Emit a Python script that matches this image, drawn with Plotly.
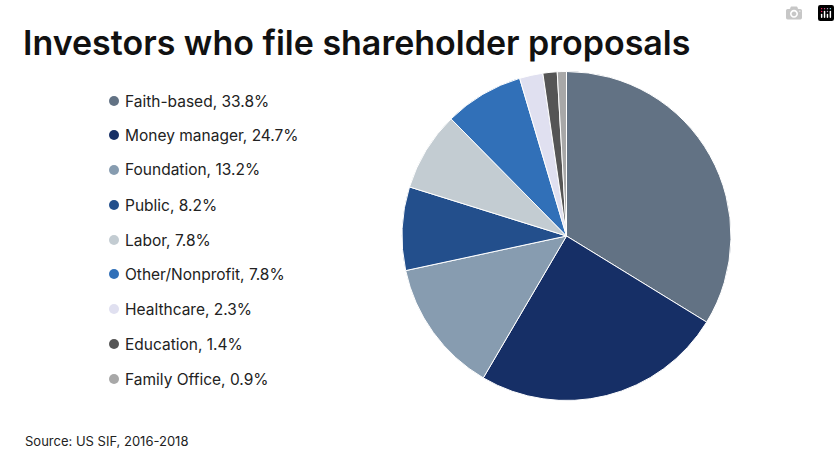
import plotly.graph_objects as go

title = "Investors who file shareholder proposals"
source = "Source: US SIF, 2016-2018"
categories = ["Faith-based", "Money manager", "Foundation", "Public", "Labor", "Other/Nonprofit", "Healthcare", "Education", "Family Office"]
values = [33.8, 24.7, 13.2, 8.2, 7.8, 7.8, 2.3, 1.4, 0.9]
colors = ["#627284", "#162F66", "#879CB0", "#234F8C", "#C3CCD2", "#3170B8", "#E0E0F0", "#555555", "#A8A8A8"]
FONT = "Inter, sans-serif"

fig = go.Figure(go.Pie(
    labels=categories, values=values, sort=False, direction="clockwise", rotation=0,
    marker=dict(colors=colors, line=dict(color="white", width=1)),
    textinfo="none", hoverinfo="label+percent", showlegend=False,
    domain=dict(x=[402/840, 731/840], y=[1-401/472, 1-71/472]),
))

W, H = 840, 472
ys = [101, 135, 170, 205, 240, 274, 309, 344, 379]
for name, v, c, y in zip(categories, values, colors, ys):
    fig.add_annotation(x=123/W, y=1-y/H, xref="paper", yref="paper", xanchor="left", yanchor="middle",
                       text=f"{name}, {v}%", showarrow=False, font=dict(family=FONT, size=15.5, color="#222222"))
    fig.add_shape(type="circle", xref="paper", yref="paper", x0=109/W, x1=119/W, y0=1-(y+5)/H, y1=1-(y-5)/H,
                  fillcolor=c, line=dict(width=0))

fig.add_annotation(x=21/W, y=1-43/H, xref="paper", yref="paper", xanchor="left", yanchor="middle", text=title,
                   showarrow=False, font=dict(family=FONT, size=34, color="#111111", weight=600))
fig.add_annotation(x=23/W, y=1-441/H, xref="paper", yref="paper", xanchor="left", yanchor="middle", text=source,
                   showarrow=False, font=dict(family=FONT, size=13, color="#222222"))

fig.update_layout(width=W, height=H, margin=dict(l=0, r=0, t=0, b=0), paper_bgcolor="white", plot_bgcolor="white")
fig.write_html("out.html", post_script="document.body.style.margin='0';")
